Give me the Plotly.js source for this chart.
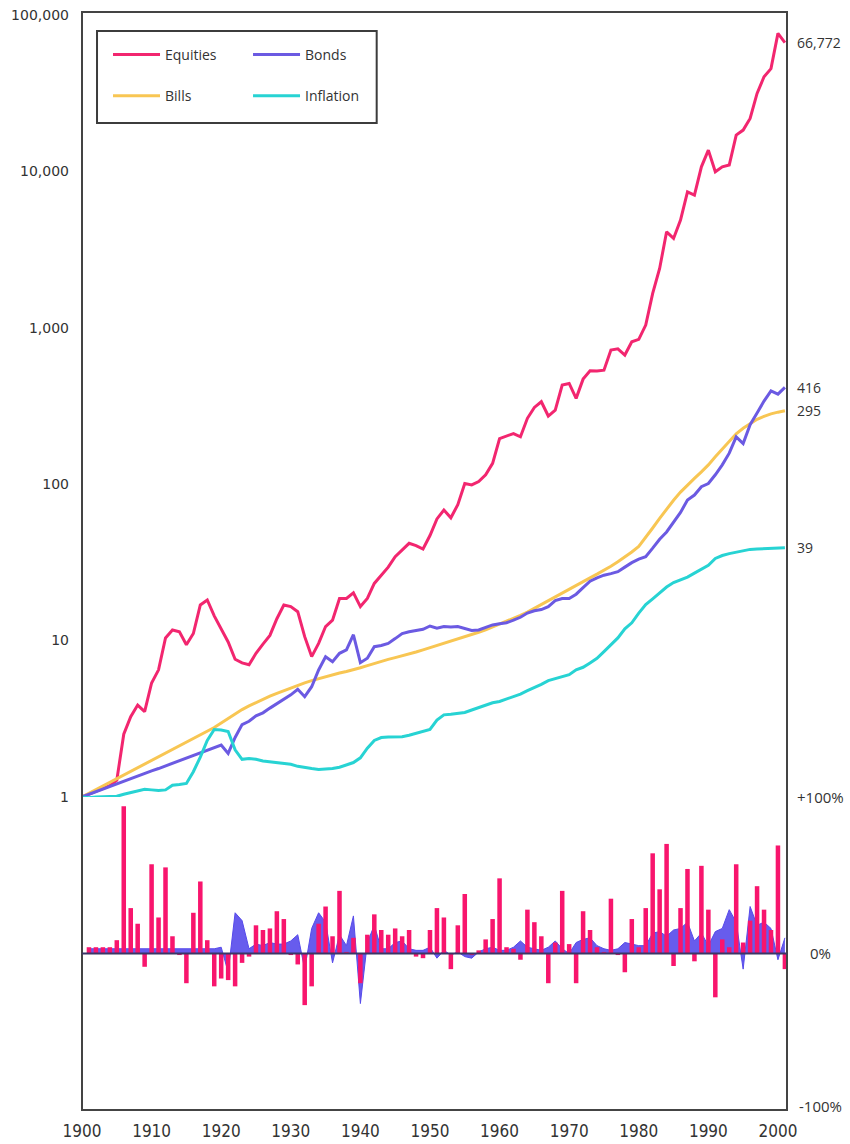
<!DOCTYPE html>
<html>
<head>
<meta charset="utf-8">
<script src="https://cdn.plot.ly/plotly-3.0.1.min.js"></script>
<style>
html,body{margin:0;padding:0;background:#ffffff;}
#chart{width:850px;height:1144px;}
</style>
</head>
<body>
<div id="chart"></div>
<script>
// Index levels at the start of each year (1900 = 1); the 2001 point is the end-2000 value
const indexYears = [1900,1901,1902,1903,1904,1905,1906,1907,1908,1909,1910,1911,1912,1913,1914,1915,1916,1917,1918,1919,1920,1921,1922,1923,1924,1925,1926,1927,1928,1929,1930,1931,1932,1933,1934,1935,1936,1937,1938,1939,1940,1941,1942,1943,1944,1945,1946,1947,1948,1949,1950,1951,1952,1953,1954,1955,1956,1957,1958,1959,1960,1961,1962,1963,1964,1965,1966,1967,1968,1969,1970,1971,1972,1973,1974,1975,1976,1977,1978,1979,1980,1981,1982,1983,1984,1985,1986,1987,1988,1989,1990,1991,1992,1993,1994,1995,1996,1997,1998,1999,2000,2001];

const equities = [1.00,1.04,1.085,1.13,1.18,1.28,2.52,3.26,3.87,3.51,
  5.36,6.5,10.4,11.7,11.4,9.4,11.1,16.9,18.2,14.4,
  11.8,9.8,7.6,7.2,7.0,8.3,9.5,10.8,13.8,16.9,
  16.5,15.3,10.6,7.9,9.6,12.3,13.5,18.6,18.6,20.2,
  16.5,18.6,23.2,26.3,29.5,34.4,38.0,41.9,40.5,38.5,
  47.0,60.0,68.4,61.0,74.0,101,99,104,115,136,
  196,204,211,201,264,310,337,273,298,431,
  441,354,470,532,530,536,721,735,670,815,
  844,1042,1661,2400,4115,3733,4888,7413,7063,10715,
  13700,9960,10715,10990,17100,18400,21850,31550,40350,45500,
  76400,66772];

const bonds = [1.00,1.04,1.08,1.12,1.17,1.21,1.26,1.31,1.36,1.41,
  1.47,1.52,1.58,1.65,1.71,1.78,1.85,1.92,1.99,2.07,
  2.15,1.90,2.40,2.90,3.05,3.30,3.45,3.70,3.95,4.20,
  4.50,4.88,4.38,5.07,6.49,7.89,7.33,8.29,8.71,10.9,
  7.22,7.71,9.14,9.30,9.60,10.3,11.1,11.4,11.6,11.8,
  12.4,12.0,12.3,12.2,12.3,12.0,11.6,11.7,12.1,12.6,
  12.8,13.0,13.5,14.1,15.0,15.5,15.8,16.5,18.0,18.6,
  18.6,19.8,21.8,24.0,25.2,26.2,26.8,27.6,29.5,31.5,
  33.2,34.4,39.0,44.5,49.5,57.0,66.0,79.2,85.3,96.4,
  101,115,133,158,201,182,240,285,340,395,
  377,416];

const bills = [1.00,1.055,1.11,1.17,1.24,1.31,1.38,1.45,1.53,1.62,
  1.71,1.80,1.90,2.01,2.12,2.24,2.37,2.50,2.64,2.78,
  2.97,3.18,3.40,3.62,3.82,4.02,4.22,4.41,4.60,4.79,
  4.98,5.17,5.36,5.55,5.72,5.88,6.04,6.20,6.35,6.50,
  6.70,6.92,7.15,7.38,7.58,7.78,7.98,8.20,8.45,8.72,
  9.00,9.28,9.58,9.90,10.2,10.5,10.9,11.3,11.7,12.2,
  12.7,13.2,13.8,14.5,15.2,16.1,17.0,18.0,19.0,20.1,
  21.3,22.6,23.9,25.2,26.6,28.1,29.9,31.9,34.2,36.9,
  40.0,45.5,52.5,60.5,69.5,79.0,89.0,99.0,109,120,
  133,150,168,190,210,228,245,260,272,282,
  289,295];

const inflation = [1.00,0.99,1.00,1.00,1.00,1.01,1.04,1.07,1.10,1.12,
  1.11,1.10,1.11,1.19,1.20,1.22,1.45,1.80,2.30,2.70,
  2.68,2.62,2.00,1.74,1.76,1.74,1.70,1.68,1.67,1.65,
  1.62,1.57,1.54,1.52,1.50,1.51,1.52,1.55,1.61,1.66,
  1.78,2.05,2.30,2.40,2.42,2.42,2.43,2.48,2.55,2.60,
  2.70,3.10,3.35,3.38,3.42,3.47,3.60,3.72,3.85,4.00,
  4.08,4.22,4.38,4.55,4.78,5.00,5.25,5.55,5.70,5.85,
  6.05,6.50,6.75,7.20,7.70,8.50,9.40,10.4,11.9,13.0,
  15.0,17.0,18.5,20.1,22.0,23.5,24.5,25.5,27.0,28.5,
  30.3,33.5,35.0,36.0,36.8,37.5,38.3,38.5,38.7,38.8,
  39.1,39.3];

// Annual returns (fraction), one per calendar year, shown at the year end
const returnYears = [1900,1901,1902,1903,1904,1905,1906,1907,1908,1909,1910,1911,1912,1913,1914,1915,1916,1917,1918,1919,1920,1921,1922,1923,1924,1925,1926,1927,1928,1929,1930,1931,1932,1933,1934,1935,1936,1937,1938,1939,1940,1941,1942,1943,1944,1945,1946,1947,1948,1949,1950,1951,1952,1953,1954,1955,1956,1957,1958,1959,1960,1961,1962,1963,1964,1965,1966,1967,1968,1969,1970,1971,1972,1973,1974,1975,1976,1977,1978,1979,1980,1981,1982,1983,1984,1985,1986,1987,1988,1989,1990,1991,1992,1993,1994,1995,1996,1997,1998,1999,2000];

const equityReturns = [0.04,0.04,0.04,0.04,0.085,0.94,0.29,0.19,-0.085,0.57,
  0.23,0.55,0.11,-0.01,-0.19,0.26,0.46,0.085,-0.21,-0.16,
  -0.17,-0.21,-0.06,-0.02,0.18,0.15,0.16,0.27,0.22,-0.01,
  -0.07,-0.33,-0.21,0.19,0.30,0.11,0.40,0.01,0.10,-0.19,
  0.12,0.25,0.15,0.12,0.16,0.11,0.15,-0.02,-0.03,0.15,
  0.29,0.23,-0.10,0.18,0.38,-0.01,0.02,0.09,0.22,0.48,
  0.04,0.03,-0.04,0.28,0.20,0.11,-0.19,0.07,0.40,0.06,
  -0.19,0.27,0.15,0.04,0.01,0.35,-0.01,-0.12,0.22,0.04,
  0.29,0.64,0.41,0.70,-0.08,0.29,0.54,-0.05,0.56,0.28,
  -0.28,0.09,0.04,0.57,0.07,0.21,0.43,0.28,0.15,0.69,
  -0.10];

const bondReturns = [0.03,0.03,0.03,0.03,0.03,0.03,0.03,0.03,0.03,0.03,
  0.03,0.03,0.03,0.03,0.03,0.03,0.03,0.03,0.03,0.04,
  -0.12,0.26,0.21,0.03,0.06,0.05,0.07,0.06,0.06,0.08,
  0.12,-0.10,0.16,0.26,0.20,-0.06,0.12,0.05,0.24,-0.32,
  0.07,0.18,0.03,0.03,0.07,0.08,0.03,0.02,0.02,0.04,
  -0.03,0.02,-0.01,0.01,-0.02,-0.03,0.01,0.03,0.04,0.02,
  0.02,0.04,0.08,0.04,0.03,0.02,0.04,0.08,0.03,0.00,
  0.07,0.09,0.10,0.05,0.03,0.02,0.03,0.07,0.06,0.05,
  0.05,0.13,0.14,0.11,0.15,0.16,0.20,0.08,0.13,0.05,
  0.14,0.16,0.28,0.20,-0.10,0.30,0.18,0.20,0.16,-0.04,
  0.10];

const seriesNames = ['Equities','Bonds','Bills','Inflation'];
const logTicks = [1,10,100,1000,10000,100000];
const logTickText = ['1','10','100','1,000','10,000','100,000'];
const decadeTicks = [1900,1910,1920,1930,1940,1950,1960,1970,1980,1990,2000];
const pctTicks = [1,0,-1];
const pctTickText = ['+100%','0%','-100%'];

const colors = {eq:'#f2266f', bo:'#6b5ae2', bi:'#f8c653', inf:'#27d3d3', bar:'#f8156d', area:'rgba(86,74,235,0.9)'};

// returns are positioned at the end of their calendar year
const returnX = returnYears.map(y => y + 1);

const traces = [
  {x: returnX, y: bondReturns, xaxis:'x', yaxis:'y2', type:'scatter', mode:'lines', fill:'tozeroy',
   line:{color:'rgb(86,74,235)', width:1}, fillcolor: colors.area, showlegend:false, hoverinfo:'skip'},
  {x: returnX, y: equityReturns, xaxis:'x', yaxis:'y3', type:'bar', marker:{color: colors.bar}, showlegend:false},
  {x: indexYears, y: equities, name: seriesNames[0], type:'scatter', mode:'lines', line:{color:colors.eq, width:3}, legend:'legend', legendgroup:'eq'},
  {x: indexYears, y: bills, name: seriesNames[2], type:'scatter', mode:'lines', line:{color:colors.bi, width:3}, legend:'legend', legendgroup:'bi'},
  {x: indexYears, y: bonds, name: seriesNames[1], type:'scatter', mode:'lines', line:{color:colors.bo, width:3}, legend:'legend2', legendgroup:'bo'},
  {x: indexYears, y: inflation, name: seriesNames[3], type:'scatter', mode:'lines', line:{color:colors.inf, width:3}, legend:'legend2', legendgroup:'in'}
];

const fmt = v => Math.round(v).toLocaleString('en-US');
const labelFont = {family:'Open Sans, sans-serif', size:14, color:'#333'};
const endLabels = [equities, bonds, bills, inflation].map(s => ({
  xref:'paper', x:1, xanchor:'left', xshift:8, yref:'y', y: Math.log10(s[s.length-1]),
  text: fmt(s[s.length-1]), showarrow:false, font: labelFont
}));
const pctLabels = pctTicks.map((v, i) => ({
  xref:'paper', x:1, xanchor:'center', xshift:33, yref:'y2', y:v, yanchor:'middle', yshift: v < 0 ? 4 : 0,
  text: pctTickText[i], showarrow:false, font:{family:'Open Sans, sans-serif', size:15, color:'#333'}
}));

const legendFont = {family:'Open Sans, sans-serif', size:14, color:'#333'};
const splitFrac = 0.2851;

const layout = {
  width:850, height:1144,
  margin:{l:82, r:63, t:12, b:34},
  paper_bgcolor:'#ffffff', plot_bgcolor:'#ffffff',
  bargap:0.35,
  xaxis:{range:[1900, 2001.3], anchor:'y2', tickvals:decadeTicks, ticks:'', showgrid:false, zeroline:false, showline:false,
         tickfont:{family:'Liberation Sans Narrow, DejaVu Sans Condensed, sans-serif', size:17, color:'#333'}, ticklabelstandoff:9},
  yaxis:{type:'log', domain:[splitFrac,1], range:[0,5.02], tickvals:logTicks, ticktext:logTickText, ticks:'',
         showgrid:false, zeroline:false, showline:false,
         tickfont:{family:'DejaVu Sans, sans-serif', size:14, color:'#333'}, ticklabelstandoff:12},
  yaxis2:{domain:[0,splitFrac], range:[-1,1], anchor:'x', showticklabels:false, ticks:'',
          showgrid:false, zeroline:false, showline:false},
  yaxis3:{overlaying:'y2', range:[-1,1], anchor:'x', visible:false, showgrid:false, zeroline:false},
  legend:{x:0.0369, y:0.9755, xanchor:'left', yanchor:'top', bgcolor:'rgba(0,0,0,0)', borderwidth:0,
          font:legendFont, traceorder:'grouped', tracegroupgap:20, itemwidth:47},
  legend2:{x:0.2355, y:0.9755, xanchor:'left', yanchor:'top', bgcolor:'rgba(0,0,0,0)', borderwidth:0,
          font:legendFont, traceorder:'grouped', tracegroupgap:20, itemwidth:47},
  shapes:[
    {type:'rect', xref:'paper', yref:'paper', x0:0, x1:1, y0:0, y1:1, line:{color:'#444', width:2}, layer:'above'},
    {type:'line', xref:'paper', x0:0, x1:1, yref:'y2', y0:0, y1:0, line:{color:'#3b3566', width:2}, layer:'above'},
    {type:'rect', xref:'paper', yref:'paper', x0:0.0213, x1:0.418, y0:0.8989, y1:0.9827, line:{color:'#3c3c3c', width:2}, fillcolor:'rgba(0,0,0,0)', layer:'above'}
  ],
  annotations: endLabels.concat(pctLabels)
};

Plotly.newPlot('chart', traces, layout, {displayModeBar:false, staticPlot:true});
</script>
</body>
</html>
